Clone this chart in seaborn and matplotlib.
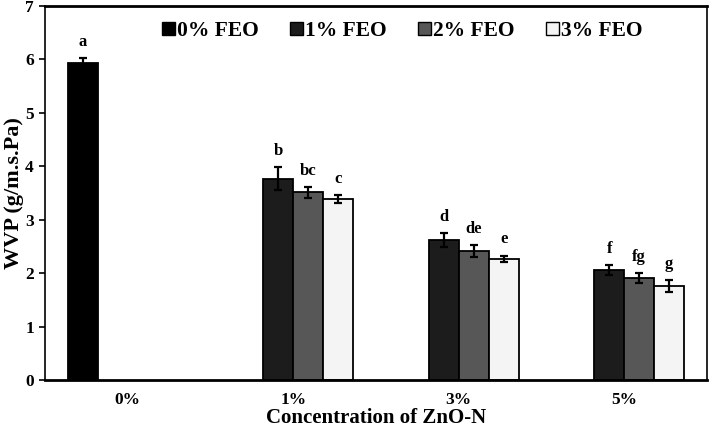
import matplotlib
matplotlib.use("Agg")
import matplotlib.pyplot as plt
import seaborn as sns
import pandas as pd
import numpy as np
from matplotlib.patches import Patch

# data
zno_levels = ["0%", "1%", "3%", "5%"]
feo_levels = ["0% FEO", "1% FEO", "2% FEO", "3% FEO"]
row_zno = ["0%", "1%", "1%", "1%", "3%", "3%", "3%", "5%", "5%", "5%"]
row_feo = ["0% FEO", "1% FEO", "2% FEO", "3% FEO",
           "1% FEO", "2% FEO", "3% FEO",
           "1% FEO", "2% FEO", "3% FEO"]
wvp = [5.93, 3.77, 3.51, 3.39, 2.62, 2.42, 2.27, 2.06, 1.91, 1.76]
err = [0.09, 0.21, 0.11, 0.08, 0.13, 0.11, 0.06, 0.10, 0.09, 0.12]
letters = ["a", "b", "bc", "c", "d", "de", "e", "f", "fg", "g"]

colors = ["#000000", "#1c1c1c", "#575757", "#f4f4f4"]

sns.set_theme(style="white")
plt.rcParams["font.family"] = ["Liberation Serif", "DejaVu Serif"]
plt.rcParams["font.weight"] = "bold"
plt.rcParams["text.color"] = "black"
plt.rcParams["axes.labelcolor"] = "black"

df = pd.DataFrame({"ZnO": row_zno, "FEO": row_feo, "WVP": wvp, "err": err, "lab": letters})

fig = plt.figure(figsize=(7.09, 4.32), dpi=100)
ax = fig.add_axes([45 / 709, 1 - 380 / 432, (707 - 45) / 709, (380 - 6) / 432])

sns.barplot(data=df, x="ZnO", y="WVP", hue="FEO", order=zno_levels,
            hue_order=feo_levels, palette=colors, width=0.725,
            errorbar=None, edgecolor="black", linewidth=1.3, ax=ax,
            legend=False, saturation=1)

# error bars and letters positioned from the drawn bars
xs_map = {}
for cont, feo in zip(ax.containers, feo_levels):
    for patch in cont.patches:
        h = patch.get_height()
        if np.isnan(h) or h == 0:
            continue
        xc = patch.get_x() + patch.get_width() / 2
        xs_map[(round(h, 4), feo)] = xc

for _, r in df.iterrows():
    xc = xs_map.get((round(r["WVP"], 4), r["FEO"]))
    if xc is None:
        continue
    ax.errorbar(xc, r["WVP"], yerr=r["err"], fmt="none", ecolor="black",
                elinewidth=1.6, capsize=3, capthick=1.6, zorder=5)
    ax.text(xc, r["WVP"] + r["err"] + 0.15, r["lab"], ha="center", va="bottom",
            fontsize=12, fontweight="bold", color="black")

ax.set_ylim(0, 7)
ax.set_xlim(-0.5, 3.5)
ax.set_yticks(range(0, 8))
ax.tick_params(axis="y", which="both", left=True, length=4, width=1.2,
               direction="out", labelsize=12.5, pad=4, colors="black")
ax.tick_params(axis="x", bottom=False, labelsize=12.5, pad=2.5, colors="black")
for lbl in ax.get_xticklabels() + ax.get_yticklabels():
    lbl.set_fontweight("bold")

for side in ["left", "bottom", "top", "right"]:
    ax.spines[side].set_visible(True)
    ax.spines[side].set_color("black")
ax.spines["left"].set_linewidth(1.2)
ax.spines["bottom"].set_linewidth(2.0)
ax.spines["top"].set_linewidth(2.0)
ax.spines["right"].set_linewidth(1.2)

ax.set_ylabel("WVP (g/m.s.Pa)", fontsize=16, fontweight="bold", color="black", labelpad=1)
ax.set_xlabel("Concentration of ZnO-N", fontsize=15, fontweight="bold", color="black", labelpad=0)

handles = [Patch(facecolor=c, edgecolor="black", linewidth=1.0) for c in colors]
ax.legend(handles, feo_levels, loc="upper center", bbox_to_anchor=(0.54, 1.0),
          ncol=4, frameon=False, handlelength=0.6, handleheight=0.6,
          handletextpad=0.1, columnspacing=1.45, borderaxespad=0.3,
          labelcolor="black",
          prop={"family": "Liberation Serif", "weight": "bold", "size": 15.5})

fig.savefig("out.png", dpi=100)
